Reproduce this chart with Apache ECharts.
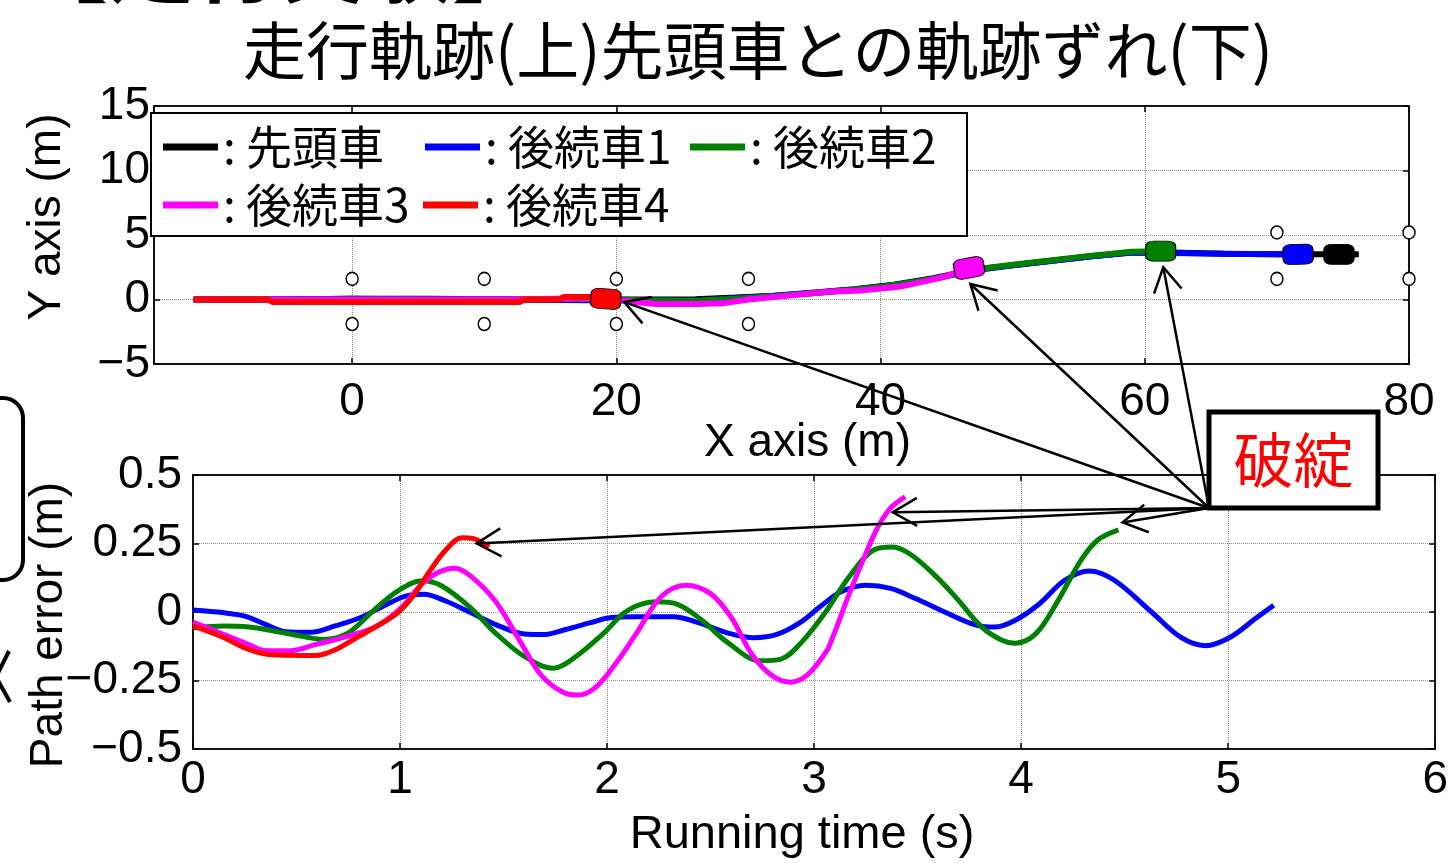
<!DOCTYPE html>
<html>
<head>
<meta charset="utf-8">
<title>走行軌跡と軌跡ずれ</title>
<script src="https://cdn.jsdelivr.net/npm/echarts@6/dist/echarts.min.js"></script>
<style>
  html, body { margin: 0; padding: 0; background: #fff; }
  #main { width: 1451px; height: 863px; }
</style>
</head>
<body>
<div id="main"></div>
<script>
// ---- vehicles ----
const vehicleNames = ['先頭車', '後続車1', '後続車2', '後続車3', '後続車4'];

// ---- driving trajectories, X/Y in metres ----
const leadX = [-12, -6, 0, 6, 12, 18, 22, 26, 29, 32, 35, 38, 41, 44, 47, 50, 53, 56, 59, 62, 66, 70, 74, 76.2];
const leadY = [0, 0, 0.05, 0.05, 0, 0, 0, 0.02, 0.15, 0.3, 0.55, 0.8, 1.15, 1.65, 2.3, 2.65, 3.0, 3.35, 3.65, 3.65, 3.55, 3.5, 3.5, 3.5];
const f1X = [-12, -6, 0, 6, 12, 18, 22, 26, 29, 32, 35, 38, 41, 44, 47, 50, 53, 56, 59, 62, 66, 70, 71.6];
const f1Y = [0, 0, 0.05, 0, 0, -0.05, -0.05, -0.1, 0.1, 0.3, 0.5, 0.78, 1.1, 1.6, 2.25, 2.65, 3.0, 3.35, 3.65, 3.6, 3.55, 3.5, 3.48];
const f2X = [-12, -6, 0, 6, 12, 18, 22, 26, 29, 32, 35, 38, 41, 44, 47, 50, 53, 56, 59, 61.2];
const f2Y = [0, 0, 0, 0, 0, 0.05, -0.05, -0.1, 0.05, 0.25, 0.5, 0.75, 1.1, 1.6, 2.3, 2.7, 3.05, 3.4, 3.7, 3.75];
const f3X = [-12, -6, 0, 6, 12, 18, 20.5, 23, 26, 28, 30, 33, 36, 38.5, 41.5, 44.6, 46.7];
const f3Y = [0, 0, 0, 0, 0, 0.1, -0.1, -0.35, -0.35, -0.3, 0, 0.3, 0.6, 0.7, 1.0, 1.7, 2.4];
const f4X = [-12, -6.4, -6, 0, 6, 12.7, 13, 15.7, 16, 18, 19.2];
const f4Y = [0, 0, -0.2, -0.2, -0.2, -0.2, 0, 0, 0.2, 0.2, 0.1];

// final vehicle positions and heading (deg)
const carX = [74.7, 71.6, 61.2, 46.7, 19.2];
const carY = [3.5, 3.5, 3.75, 2.45, 0.05];
const carHeading = [0, 2, 0, 10, -4];

// pylons
const coneX = [0, 0, 10, 10, 20, 20, 30, 30, 70, 70, 80, 80];
const coneY = [1.6, -1.9, 1.6, -1.9, 1.6, -1.9, 1.6, -1.9, 5.2, 1.6, 5.2, 1.6];

// ---- path error vs. leader, time in s, error in m ----
const f1T = [0, 0.15, 0.25, 0.35, 0.45, 0.57, 0.69, 0.81, 0.93, 1.03, 1.115, 1.22, 1.34, 1.46, 1.6, 1.7, 1.8, 1.92, 2.02, 2.14, 2.32, 2.44, 2.58, 2.71, 2.82, 2.93, 3.03, 3.13, 3.25, 3.37, 3.49, 3.63, 3.77, 3.87, 3.97, 4.09, 4.21, 4.33, 4.45, 4.63, 4.77, 4.89, 5.01, 5.13, 5.22];
const f1E = [0.007, -0.003, -0.015, -0.045, -0.072, -0.074, -0.05, -0.02, 0.026, 0.059, 0.065, 0.04, -0.002, -0.045, -0.08, -0.082, -0.064, -0.039, -0.02, -0.017, -0.017, -0.039, -0.076, -0.094, -0.082, -0.04, 0.02, 0.074, 0.098, 0.086, 0.049, 0, -0.045, -0.055, -0.031, 0.031, 0.116, 0.15, 0.116, 0, -0.092, -0.123, -0.092, -0.025, 0.025];
const f2T = [0, 0.15, 0.27, 0.41, 0.55, 0.63, 0.75, 0.87, 0.99, 1.105, 1.2, 1.34, 1.46, 1.6, 1.74, 1.84, 1.98, 2.1, 2.24, 2.34, 2.46, 2.58, 2.74, 2.84, 2.94, 3.05, 3.17, 3.29, 3.38, 3.47, 3.59, 3.69, 3.81, 3.91, 3.97, 4.07, 4.17, 4.29, 4.37, 4.47];
const f2E = [-0.058, -0.051, -0.055, -0.072, -0.092, -0.1, -0.076, 0.004, 0.077, 0.114, 0.096, 0.016, -0.076, -0.162, -0.205, -0.168, -0.08, 0.006, 0.037, 0.028, -0.031, -0.11, -0.178, -0.172, -0.11, -0.006, 0.129, 0.227, 0.237, 0.208, 0.129, 0.049, -0.055, -0.104, -0.114, -0.08, 0.031, 0.19, 0.263, 0.3];
const f3T = [0, 0.15, 0.27, 0.35, 0.47, 0.59, 0.75, 0.89, 1.006, 1.105, 1.185, 1.264, 1.34, 1.46, 1.58, 1.68, 1.78, 1.86, 1.94, 2.04, 2.14, 2.26, 2.38, 2.5, 2.6, 2.7, 2.8, 2.89, 2.97, 3.06, 3.09, 3.17, 3.25, 3.31, 3.37, 3.44];
const f3E = [-0.037, -0.082, -0.119, -0.141, -0.141, -0.119, -0.088, -0.051, 0.016, 0.102, 0.145, 0.16, 0.132, 0.04, -0.107, -0.229, -0.29, -0.303, -0.278, -0.19, -0.08, 0.055, 0.098, 0.067, -0.02, -0.155, -0.234, -0.256, -0.228, -0.143, -0.092, 0.067, 0.214, 0.313, 0.38, 0.42];
const f4T = [0, 0.15, 0.25, 0.35, 0.47, 0.59, 0.69, 0.79, 0.89, 0.99, 1.07, 1.145, 1.225, 1.3, 1.36, 1.43];
const f4E = [-0.051, -0.094, -0.131, -0.153, -0.158, -0.159, -0.137, -0.094, -0.051, -0.002, 0.065, 0.151, 0.23, 0.271, 0.267, 0.237];

// ---- tick values ----
const trajXTicks = [0, 20, 40, 60, 80];
const trajYTicks = [-5, 0, 5, 10, 15];
const errXTicks = [0, 1, 2, 3, 4, 5, 6];
const errYTicks = [-0.5, -0.25, 0, 0.25, 0.5];

// breakdown points the callout arrows point at
const breakTraj = [[20.6, -0.2], [46.8, 1.2], [61.4, 2.5]];
const breakErr = [[1.37, 0.25], [3.38, 0.364], [4.49, 0.327]];

// ---- styling ----
const colors = ['#000000', '#0000ff', '#008000', '#ff00ff', '#ff0000'];
const NUM_FONT = '"Liberation Sans", Arial, Helvetica, sans-serif';
const JP_FONT = '"Noto Sans CJK JP", "Noto Sans", sans-serif';

const zip = (a, b) => a.map((v, i) => [v, b[i]]);
const minusFmt = v => (v < 0 ? '\u2212' : '') + Math.abs(v);

const labelStyle = { color: '#000', fontSize: 46, fontFamily: NUM_FONT };
const gridLine = { show: true, lineStyle: { color: '#8a8a8a', type: 'dotted', width: 1 } };

function tickAxis(base, extra) {
  return Object.assign({
    type: 'value',
    nameMoveOverlap: false,
    axisLine: { show: true, onZero: false, lineStyle: { color: '#000', width: 1.5 } },
    axisTick: { show: true, inside: true, length: 6, lineStyle: { color: '#000', width: 1.5 } },
    splitLine: gridLine,
    nameTextStyle: { color: '#000', fontSize: 46, fontFamily: NUM_FONT }
  }, base, extra || {});
}

const trajLists = [[leadX, leadY], [f1X, f1Y], [f2X, f2Y], [f3X, f3Y], [f4X, f4Y]];
const errLists = [null, [f1T, f1E], [f2T, f2E], [f3T, f3E], [f4T, f4E]];

const series = [];
trajLists.forEach((xy, i) => {
  series.push({
    name: vehicleNames[i], type: 'line', xAxisIndex: 0, yAxisIndex: 0,
    data: zip(xy[0], xy[1]), showSymbol: false, z: 2 + i,
    lineStyle: { color: colors[i], width: 6 }, itemStyle: { color: colors[i] }
  });
});
series.push({
  name: 'pylon', type: 'scatter', xAxisIndex: 0, yAxisIndex: 0,
  data: zip(coneX, coneY), symbol: 'circle', symbolSize: [12, 13], z: 3,
  itemStyle: { color: '#fff', borderColor: '#000', borderWidth: 1.5, opacity: 1 }
});
vehicleNames.forEach((n, i) => {
  series.push({
    name: n + '_car', type: 'scatter', xAxisIndex: 0, yAxisIndex: 0,
    data: [[carX[i], carY[i]]], symbol: 'roundRect', symbolSize: [30, 20],
    symbolRotate: carHeading[i], z: 10,
    itemStyle: { color: colors[i], borderColor: '#000', borderWidth: 1, opacity: 1 }
  });
});
errLists.forEach((te, i) => {
  if (!te) return;
  series.push({
    name: vehicleNames[i], type: 'line', xAxisIndex: 1, yAxisIndex: 1,
    data: zip(te[0], te[1]), showSymbol: false, smooth: 0.35, z: 2 + i,
    lineStyle: { color: colors[i], width: 5 }, itemStyle: { color: colors[i] }
  });
});

// legend entries, two rows as in a MATLAB legend box
const legendPos = [[163, 124], [425, 124], [690, 124], [163, 182], [423, 182]];
const legends = vehicleNames.map((n, i) => ({
  data: [n], left: legendPos[i][0], top: legendPos[i][1], padding: 0,
  itemWidth: 55, itemHeight: 7, icon: 'rect', selectedMode: false, z: 6,
  formatter: ': {name}',
  textStyle: { color: '#000', fontSize: 46, fontFamily: JP_FONT }
}));

const option = {
  animation: false,
  backgroundColor: '#fff',
  title: {
    text: '走行軌跡(上)先頭車との軌跡ずれ(下)',
    left: 753, top: 14, textAlign: 'center',
    textStyle: { color: '#000', fontSize: 63, fontWeight: 'normal', fontFamily: JP_FONT }
  },
  legend: legends,
  grid: [
    { left: 154, right: 42, top: 106, height: 258, show: true, borderColor: '#000', borderWidth: 1.5 },
    { left: 193, right: 13, top: 475, height: 274, show: true, borderColor: '#000', borderWidth: 1.5 }
  ],
  xAxis: [
    tickAxis({
      gridIndex: 0, min: -15, max: 80, name: 'X axis (m)', nameLocation: 'middle', nameGap: 56,
      axisLabel: Object.assign({ customValues: trajXTicks, margin: 15, formatter: minusFmt }, labelStyle),
      axisTick: { show: true, inside: true, length: 6, customValues: trajXTicks, lineStyle: { color: '#000', width: 1.5 } }
    }, { nameTextStyle: { color: '#000', fontSize: 46, fontFamily: NUM_FONT, padding: [0, 0, 0, 52] } }),
    tickAxis({
      gridIndex: 1, min: 0, max: 6, interval: 1, name: 'Running time (s)', nameLocation: 'middle', nameGap: 63,
      axisLabel: Object.assign({ margin: 8, formatter: minusFmt }, labelStyle)
    }, { nameTextStyle: { color: '#000', fontSize: 47, fontFamily: NUM_FONT, padding: [0, 24, 0, 0] } }),
    tickAxis({
      gridIndex: 0, min: -15, max: 80, position: 'top', axisLabel: { show: false }, splitLine: { show: false },
      axisTick: { show: true, inside: true, length: 6, customValues: trajXTicks, lineStyle: { color: '#000', width: 1.5 } }
    }),
    tickAxis({ gridIndex: 1, min: 0, max: 6, interval: 1, position: 'top', axisLabel: { show: false }, splitLine: { show: false } })
  ],
  yAxis: [
    tickAxis({
      gridIndex: 0, min: -5, max: 15, interval: 5, name: 'Y axis (m)', nameLocation: 'middle', nameGap: 84,
      axisLabel: Object.assign({ margin: 4, formatter: minusFmt }, labelStyle)
    }, { nameTextStyle: { color: '#000', fontSize: 46, fontFamily: NUM_FONT, padding: [0, 0, 0, 36] } }),
    tickAxis({
      gridIndex: 1, min: -0.5, max: 0.5, interval: 0.25, name: 'Path error (m)', nameLocation: 'middle', nameGap: 121,
      axisLabel: Object.assign({ margin: 11, formatter: minusFmt }, labelStyle)
    }, { nameTextStyle: { color: '#000', fontSize: 46, fontFamily: NUM_FONT, padding: [0, 26, 0, 0] } }),
    tickAxis({ gridIndex: 0, min: -5, max: 15, interval: 5, position: 'right', axisLabel: { show: false }, splitLine: { show: false } }),
    tickAxis({ gridIndex: 1, min: -0.5, max: 0.5, interval: 0.25, position: 'right', axisLabel: { show: false }, splitLine: { show: false } })
  ],
  series: series
};

const chart = echarts.init(document.getElementById('main'), null, { renderer: 'canvas' });
chart.setOption(option);

// ---- slide decorations, legend frame and the "破綻" callout ----
const legendBox = { x: 151, y: 113, w: 816, h: 123 };
const calloutBox = { x: 1209, y: 412, w: 169, h: 96 };

// straight arrow with an open V head (±30°)
function arrow(from, to) {
  const dx = to[0] - from[0], dy = to[1] - from[1];
  const len = Math.hypot(dx, dy);
  const back = [-dx / len, -dy / len];
  const head = 28, ang = Math.PI / 6;
  const rot = a => [back[0] * Math.cos(a) - back[1] * Math.sin(a), back[0] * Math.sin(a) + back[1] * Math.cos(a)];
  const r1 = rot(ang), r2 = rot(-ang);
  const p1 = [to[0] + head * r1[0], to[1] + head * r1[1]];
  const p2 = [to[0] + head * r2[0], to[1] + head * r2[1]];
  return [
    { type: 'line', z: 20, shape: { x1: from[0], y1: from[1], x2: to[0], y2: to[1] }, style: { stroke: '#000', lineWidth: 2.5 } },
    { type: 'polyline', z: 20, shape: { points: [p1, to, p2] }, style: { stroke: '#000', lineWidth: 2.5, fill: null } }
  ];
}

const origin = [calloutBox.x, calloutBox.y + calloutBox.h];
let arrows = [];
breakTraj.forEach(p => { arrows = arrows.concat(arrow(origin, chart.convertToPixel({ gridIndex: 0 }, p))); });
breakErr.forEach(p => { arrows = arrows.concat(arrow(origin, chart.convertToPixel({ gridIndex: 1 }, p))); });

chart.setOption({
  graphic: [
    // heading of the slide, running off the top edge
    { type: 'text', z: 1, left: 22, top: -80,
      style: { text: '【走行実験】', fontSize: 86, fontWeight: 'bold', fontFamily: JP_FONT, fill: '#000' } },
    // rounded frame at the left edge of the slide
    { type: 'rect', z: 1, shape: { x: -60, y: 398, width: 83, height: 182, r: 20 },
      style: { fill: null, stroke: '#000', lineWidth: 4 } },
    { type: 'polyline', z: 1, shape: { points: [[9, 651], [-4, 677], [10, 702]] },
      style: { stroke: '#000', lineWidth: 4, fill: null } },
    // legend frame
    { type: 'rect', z: 4, shape: { x: legendBox.x, y: legendBox.y, width: legendBox.w, height: legendBox.h },
      style: { fill: '#fff', stroke: '#000', lineWidth: 2 } },
    // callout box
    { type: 'rect', z: 21, shape: { x: calloutBox.x, y: calloutBox.y, width: calloutBox.w, height: calloutBox.h },
      style: { fill: '#fff', stroke: '#000', lineWidth: 5 } },
    { type: 'text', z: 22, x: calloutBox.x + calloutBox.w / 2, y: calloutBox.y + calloutBox.h / 2,
      style: { text: '破綻', fontSize: 60, fontFamily: JP_FONT, fill: '#ff0000', align: 'center', verticalAlign: 'middle' } }
  ].concat(arrows)
});
</script>
</body>
</html>
